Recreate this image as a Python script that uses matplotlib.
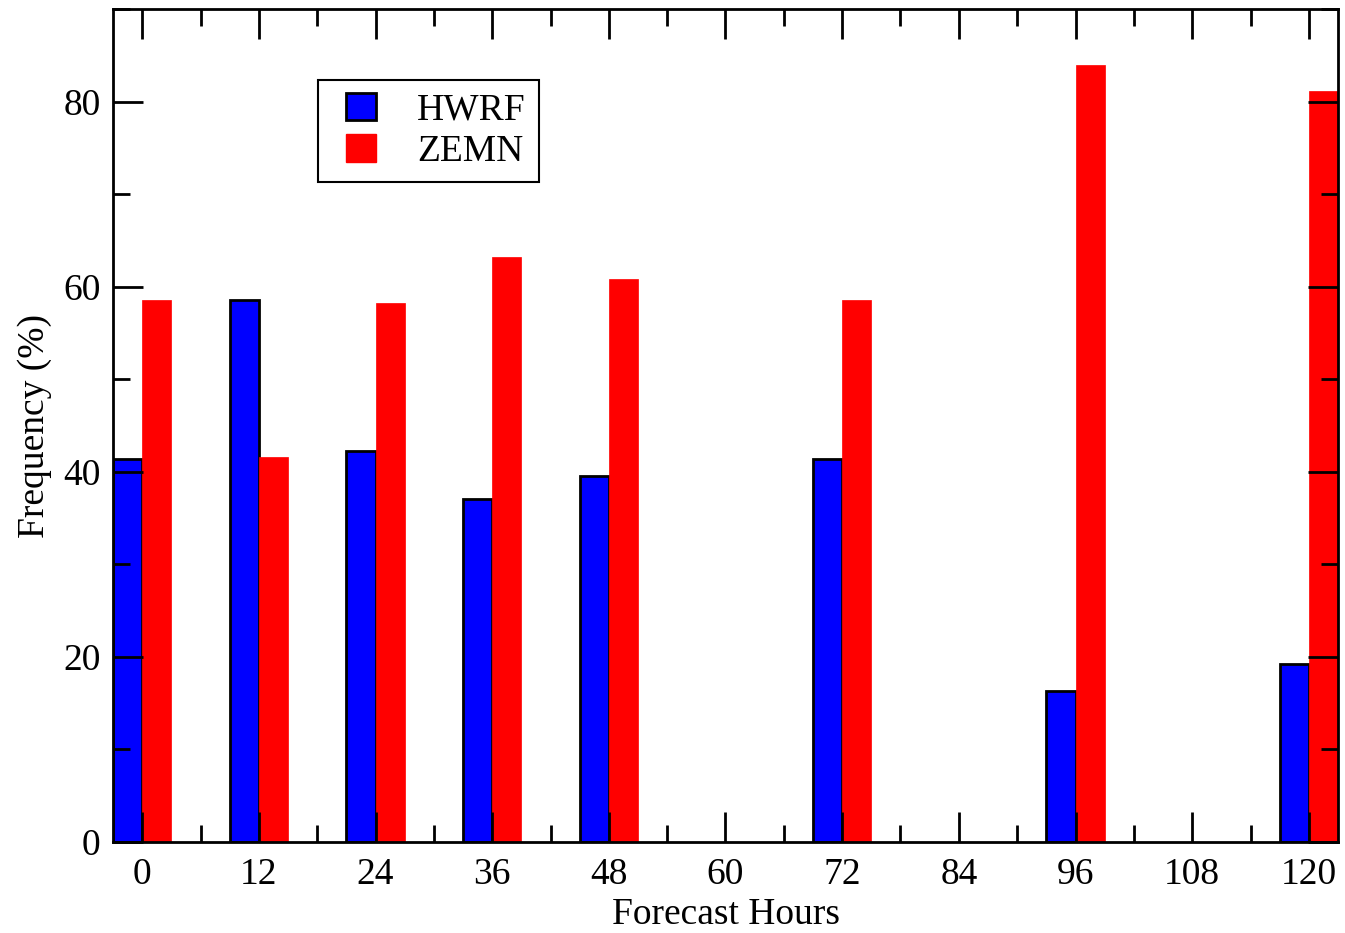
import matplotlib
matplotlib.use("Agg")
import matplotlib.pyplot as plt
from matplotlib.patches import Patch, Rectangle
from matplotlib.legend_handler import HandlerPatch
from matplotlib.ticker import MultipleLocator
import numpy as np

hours = [0, 12, 24, 36, 48, 72, 96, 120]
hwrf = [41.4, 58.6, 42.2, 37.1, 39.5, 41.4, 16.3, 19.2]
zemn = [58.6, 41.6, 58.2, 63.2, 60.8, 58.6, 84.0, 81.1]
xticks = [0, 12, 24, 36, 48, 60, 72, 84, 96, 108, 120]

plt.rcParams['font.family'] = ['Liberation Serif', 'DejaVu Serif']
FS = 27

fig = plt.figure(figsize=(13.45, 9.33), dpi=100)
ax = fig.add_axes([113/1345, 1-842/933, 1225/1345, 833/933])

bw = 3.0
h = np.array(hours, dtype=float)
ax.bar(h - bw/2, hwrf, width=bw, color='#0000ff', edgecolor='black', linewidth=2, zorder=1)
ax.bar(h + bw/2, zemn, width=bw, color='#ff0000', edgecolor='#ff0000', linewidth=0.5, zorder=1)

ax.set_xlim(-3, 123)
ax.set_ylim(0, 90)
ax.set_xticks(xticks)
ax.set_xticklabels([str(t) for t in xticks])
ax.xaxis.set_minor_locator(MultipleLocator(6))
ax.yaxis.set_major_locator(MultipleLocator(20))
ax.yaxis.set_minor_locator(MultipleLocator(10))
ax.tick_params(which='both', direction='in', top=True, right=True, width=2, labelsize=FS, color='black')
ax.tick_params(which='major', length=21.5)
ax.tick_params(which='minor', length=12)
ax.tick_params(axis='x', which='major', pad=11)
ax.tick_params(axis='y', which='major', pad=9)
for s in ax.spines.values():
    s.set_linewidth(2)
    s.set_zorder(3)

ax.set_xlabel('Forecast Hours', fontsize=FS, labelpad=4)
ax.set_ylabel('Frequency (%)', fontsize=FS, labelpad=8)


def square_right(legend, orig_handle, xdescent, ydescent, width, height, fontsize):
    w = 0.8 * fontsize
    return Rectangle((-xdescent + width - w, -ydescent), w, height)


handles = [Patch(facecolor='#0000ff', edgecolor='black', linewidth=2, label='HWRF'),
           Patch(facecolor='#ff0000', edgecolor='#ff0000', label='ZEMN')]
hmap = {Patch: HandlerPatch(patch_func=square_right)}
leg = ax.legend(handles=handles, handler_map=hmap, loc='upper left', bbox_to_anchor=(0.167, 0.915),
                fontsize=FS, frameon=True, fancybox=False, framealpha=1,
                handlelength=1.2, handleheight=0.75, handletextpad=1.1,
                labelspacing=0.18, borderpad=0.35, borderaxespad=0)
leg.get_frame().set_edgecolor('black')
leg.get_frame().set_linewidth(1.5)

fig.savefig('out.png', dpi=100)
